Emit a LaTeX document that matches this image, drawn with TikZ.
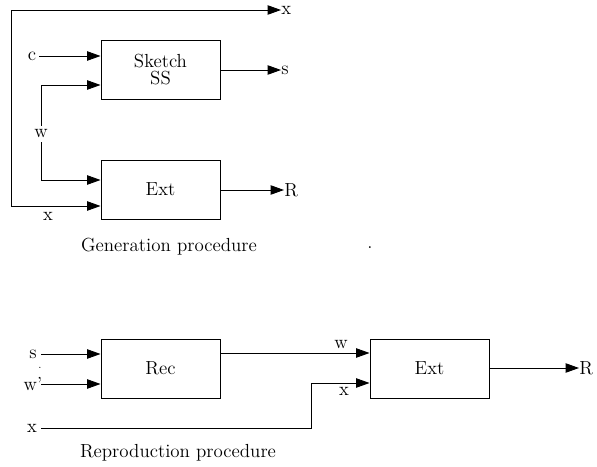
\documentclass[tikz,border=0pt]{standalone}
\usetikzlibrary{arrows.meta}
\begin{document}
\begin{tikzpicture}[x=0.75pt,y=-0.75pt,
  blk/.style={draw, line width=0.7pt, minimum width=89.25pt, minimum height=44.25pt, inner sep=0pt, font=\fontsize{14.2}{13}\selectfont, align=center},
  lbl/.style={inner sep=0pt, font=\fontsize{14.2}{16}\selectfont},
  conn/.style={line width=0.7pt},
  arr/.style={conn, -{Triangle[length=10pt,width=7pt]}},
  ]
\useasboundingbox (0,0) rectangle (597,467);
% Generation
\node[blk] (sk) at (160.5,69.5) {Sketch\\SS};
\node[blk] (ex1) at (160.5,189.5) {Ext};
\coordinate (tl) at (11,10);
\coordinate (bl) at (11,206);
\node[lbl, anchor=west] (xo) at (281,10) {x};
\node[lbl] (c) at (32,56) {c};
\node[lbl] (w) at (41,134) {w};
\node[lbl] (xl) at (48,216) {x};
\node[lbl, anchor=west] (so) at (281,70) {s};
\node[lbl, anchor=west] (ro) at (284,190) {R};
\draw[arr] (bl) -- (tl) -- (xo.west);
\draw[arr] (c.east) ++(3,0) -- (sk.west |- c);
\draw[arr] (w.north) ++(0,-4) -- (41,85) -- (sk.west |- 0,85);
\draw[arr] (w.south) ++(0,4) -- (41,180) -- (ex1.west |- 0,180);
\draw[arr] (bl) -- (ex1.west |- bl);
\draw[arr] (sk.east |- so) -- (so.west);
\draw[arr] (ex1.east |- ro) -- (ro.west);
\node[lbl] (gen) at (169,247) {Generation procedure};
\node[lbl] (dot) at (370,248) {.};
% Reproduction
\node[blk] (rec) at (160.5,368.5) {Rec};
\node[blk] (ex2) at (429.5,368.5) {Ext};
\node[lbl] (s2) at (33,354) {s};
\node[lbl] (w2) at (33,384) {w'};
\node[lbl, font=\fontsize{8}{9}\selectfont] (dt) at (40,368) {.};
\node[lbl] (x2) at (32,428) {x};
\coordinate (xc) at (311,428);
\node[lbl] (wlab) at (341,345) {w};
\node[lbl] (xlab) at (344,391) {x};
\node[lbl, anchor=west] (r2) at (579,368) {R};
\draw[arr] (41,354) -- (rec.west |- 0,354);
\draw[arr] (41,384) -- (rec.west |- 0,384);
\draw[arr] (rec.east |- 0,353) -- (ex2.west |- 0,353);
\draw[arr] (41,428) -- (xc) -- (311,383) -- (ex2.west |- 0,383);
\draw[arr] (ex2.east |- r2.west) -- (r2.west);
\node[lbl] (rep) at (178,453) {Reproduction procedure};
\end{tikzpicture}
\end{document}
